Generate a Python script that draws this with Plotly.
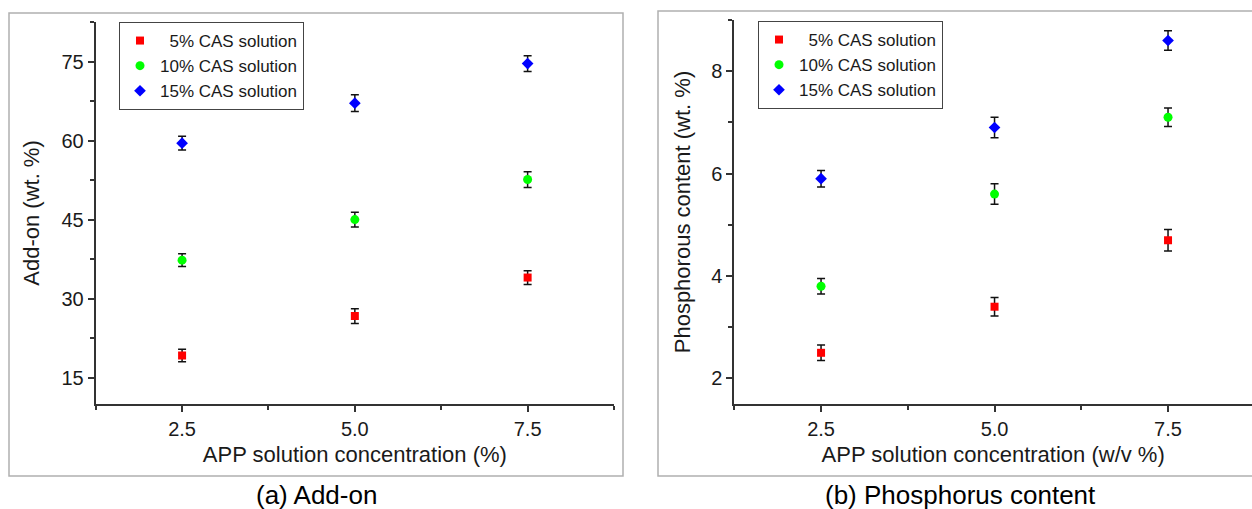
import plotly.graph_objects as go

# ---------------- data ----------------
x_app = [2.5, 5.0, 7.5]
x_tick_vals = [2.5, 5.0, 7.5]
series_names = ["\u20075% CAS solution", "10% CAS solution", "15% CAS solution"]

addon_5 = [19.2, 26.7, 34.0]
addon_10 = [37.3, 45.0, 52.6]
addon_15 = [59.5, 67.1, 74.6]
addon_err_5 = [1.2, 1.4, 1.3]
addon_err_10 = [1.2, 1.4, 1.5]
addon_err_15 = [1.3, 1.6, 1.5]

phos_5 = [2.5, 3.4, 4.7]
phos_10 = [3.8, 5.6, 7.1]
phos_15 = [5.9, 6.9, 8.6]
phos_err_5 = [0.15, 0.18, 0.21]
phos_err_10 = [0.15, 0.20, 0.18]
phos_err_15 = [0.16, 0.20, 0.19]

colors = ["#ff0000", "#00ff00", "#0000ff"]
symbols = ["square", "circle", "diamond"]
sizes = [8, 9, 9]

W, H = 1252, 509
FONT = "Liberation Sans, Arial, sans-serif"
TXT = "#1a1a1a"


def px_x(p):
    return p / W


def px_y(p):
    return (H - p) / H


fig = go.Figure()

left_vals = [addon_5, addon_10, addon_15]
left_errs = [addon_err_5, addon_err_10, addon_err_15]
right_vals = [phos_5, phos_10, phos_15]
right_errs = [phos_err_5, phos_err_10, phos_err_15]

for i in range(3):
    fig.add_trace(go.Scatter(
        x=x_app, y=left_vals[i], mode="markers", name=series_names[i],
        marker=dict(symbol=symbols[i], color=colors[i], size=sizes[i], line=dict(width=0)),
        error_y=dict(type="data", array=left_errs[i], visible=True, color="#111111",
                     thickness=1.5, width=4),
        xaxis="x", yaxis="y", legend="legend",
    ))
for i in range(3):
    fig.add_trace(go.Scatter(
        x=x_app, y=right_vals[i], mode="markers", name=series_names[i],
        marker=dict(symbol=symbols[i], color=colors[i], size=sizes[i], line=dict(width=0)),
        error_y=dict(type="data", array=right_errs[i], visible=True, color="#111111",
                     thickness=1.5, width=4),
        xaxis="x2", yaxis="y2", legend="legend2",
    ))

axis_common = dict(
    showline=True, linecolor="#333333", linewidth=2, showgrid=False, zeroline=False,
    ticks="outside", ticklen=6, tickwidth=1.5, tickcolor="#333333",
    tickfont=dict(family=FONT, size=20, color=TXT),
    title_font=dict(family=FONT, size=22, color=TXT),
)

legend_common = dict(
    xanchor="left", yanchor="top",
    bgcolor="white", bordercolor="#444444", borderwidth=1,
    font=dict(family=FONT, size=17, color=TXT), tracegroupgap=0,
    entrywidth=152, entrywidthmode="pixels",
)

fig.update_layout(
    width=W, height=H, autosize=False,
    margin=dict(l=0, r=0, t=0, b=0),
    paper_bgcolor="white", plot_bgcolor="white",
    font=dict(family=FONT, color=TXT),
    xaxis=dict(
        domain=[px_x(95.7), px_x(614)], range=[1.25, 8.75], anchor="y",
        tickmode="array", tickvals=x_tick_vals, tickformat=".1f",
        minor=dict(tickmode="array", tickvals=[1.25, 3.75, 6.25, 8.75], ticklen=4, tickcolor="#333333", tickwidth=1.5, ticks="outside"),
        title=dict(text="APP solution concentration (%)", standoff=8),
        **axis_common,
    ),
    yaxis=dict(
        domain=[px_y(404), px_y(22)], range=[10, 82.5], anchor="x",
        tick0=0, dtick=15,
        minor=dict(dtick=7.5, tick0=0, ticklen=4, tickcolor="#333333", tickwidth=1.5, ticks="outside"),
        title=dict(text="Add-on (wt. %)", standoff=16),
        **axis_common,
    ),
    xaxis2=dict(
        domain=[px_x(734.3), 1.0], range=[1.25, 8.71], anchor="y2",
        tickmode="array", tickvals=x_tick_vals, tickformat=".1f",
        minor=dict(tickmode="array", tickvals=[1.25, 3.75, 6.25], ticklen=4, tickcolor="#333333", tickwidth=1.5, ticks="outside"),
        title=dict(text="APP solution concentration (w/v %)", standoff=8),
        **axis_common,
    ),
    yaxis2=dict(
        domain=[px_y(404), px_y(20)], range=[1.5, 9.0], anchor="x2",
        tick0=0, dtick=2,
        minor=dict(dtick=1, tick0=0, ticklen=4, tickcolor="#333333", tickwidth=1.5, ticks="outside"),
        title=dict(text="Phosphorous content (wt. %)", standoff=14),
        **axis_common,
    ),
    legend=dict(x=px_x(119), y=px_y(22), **legend_common),
    legend2=dict(x=px_x(758), y=px_y(21), **legend_common),
    shapes=[
        dict(type="rect", xref="paper", yref="paper",
             x0=px_x(9), x1=px_x(623), y0=px_y(476), y1=px_y(13),
             line=dict(color="#b0b0b0", width=1.5), layer="below"),
        dict(type="rect", xref="paper", yref="paper",
             x0=px_x(658), x1=px_x(1262), y0=px_y(476), y1=px_y(11),
             line=dict(color="#b0b0b0", width=1.5), layer="below"),
    ],
    annotations=[
        dict(text="(a) Add-on", xref="paper", yref="paper", x=px_x(316), y=px_y(495),
             xanchor="center", yanchor="middle", showarrow=False,
             font=dict(family=FONT, size=26, color="#000000")),
        dict(text="(b) Phosphorus content", xref="paper", yref="paper", x=px_x(960), y=px_y(495),
             xanchor="center", yanchor="middle", showarrow=False,
             font=dict(family=FONT, size=26, color="#000000")),
    ],
)

fig.write_html("out.html", post_script="document.body.style.margin='0';",
               config={"displayModeBar": False})
